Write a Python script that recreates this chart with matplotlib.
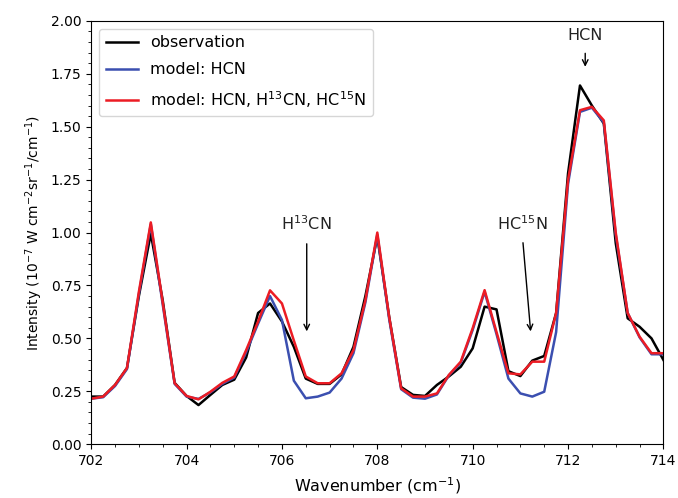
import numpy as np
import matplotlib
matplotlib.use("Agg")
import matplotlib.pyplot as plt

# wavenumber grid (cm^-1), 0.25 steps from 702 to 714
wn = np.arange(702.0, 714.01, 0.25)

obs = [0.225, 0.225, 0.28, 0.36, 0.70, 0.995, 0.68, 0.29, 0.228, 0.185,
       0.233, 0.28, 0.305, 0.41, 0.62, 0.665, 0.58, 0.46, 0.31, 0.285,
       0.285, 0.33, 0.46, 0.70, 0.98, 0.60, 0.27, 0.233, 0.228, 0.28,
       0.32, 0.366, 0.453, 0.65, 0.637, 0.345, 0.322, 0.395, 0.417, 0.62,
       1.28, 1.695, 1.60, 1.515, 0.95, 0.595, 0.555, 0.50, 0.398]

model_hcn = [0.215, 0.222, 0.275, 0.355, 0.71, 1.04, 0.66, 0.285, 0.225, 0.214,
             0.245, 0.285, 0.315, 0.435, 0.57, 0.70, 0.587, 0.30, 0.217, 0.225,
             0.244, 0.31, 0.43, 0.67, 0.99, 0.59, 0.26, 0.22, 0.215, 0.235,
             0.325, 0.385, 0.54, 0.72, 0.52, 0.31, 0.24, 0.225, 0.248, 0.53,
             1.23, 1.57, 1.59, 1.52, 0.99, 0.62, 0.505, 0.425, 0.425]

model_iso = [0.215, 0.225, 0.28, 0.36, 0.72, 1.048, 0.67, 0.288, 0.228, 0.212,
             0.248, 0.29, 0.32, 0.445, 0.58, 0.727, 0.665, 0.49, 0.32, 0.288,
             0.288, 0.335, 0.445, 0.68, 1.0, 0.60, 0.264, 0.225, 0.225, 0.24,
             0.327, 0.39, 0.548, 0.728, 0.53, 0.335, 0.33, 0.39, 0.39, 0.62,
             1.248, 1.578, 1.594, 1.53, 1.0, 0.62, 0.508, 0.43, 0.43]

fig = plt.figure(figsize=(6.78, 4.98), dpi=100)
ax = fig.add_axes([0.1345, 0.108, 0.844, 0.850])

ax.plot(wn, obs, color="black", lw=1.8, label="observation")
ax.plot(wn, model_hcn, color="#3b4fb0", lw=1.8, label="model: HCN")
ax.plot(wn, model_iso, color="#ec1c24", lw=1.8,
        label="model: HCN, H$^{13}$CN, HC$^{15}$N")

# labels and arrows for the lines
ax.text(712.36, 1.895, "HCN", ha="center", va="bottom", fontsize=11.5, color="#222222")
ax.annotate("", xy=(712.36, 1.77), xytext=(712.36, 1.86),
            arrowprops=dict(arrowstyle="->", color="black", lw=1.0))
ax.text(706.52, 1.0, "H$^{13}$CN", ha="center", va="bottom", fontsize=11.5, color="#222222")
ax.annotate("", xy=(706.52, 0.52), xytext=(706.52, 0.96),
            arrowprops=dict(arrowstyle="->", color="black", lw=1.0))
ax.text(711.03, 1.0, "HC$^{15}$N", ha="center", va="bottom", fontsize=11.5, color="#222222")
ax.annotate("", xy=(711.22, 0.52), xytext=(711.05, 0.965),
            arrowprops=dict(arrowstyle="->", color="black", lw=1.0))

ax.set_xlim(702, 714)
ax.set_ylim(0, 2.0)
ax.set_xticks([702, 704, 706, 708, 710, 712, 714])
ax.set_yticks(np.arange(0, 2.01, 0.25))
ax.minorticks_on()
ax.set_xlabel("Wavenumber (cm$^{-1}$)", fontsize=11.5, labelpad=5)
ax.set_ylabel("Intensity (10$^{-7}$ W cm$^{-2}$sr$^{-1}$/cm$^{-1}$)")
ax.legend(loc="upper left", fontsize=11.5, labelspacing=0.75)

fig.savefig("out.png", dpi=100)
